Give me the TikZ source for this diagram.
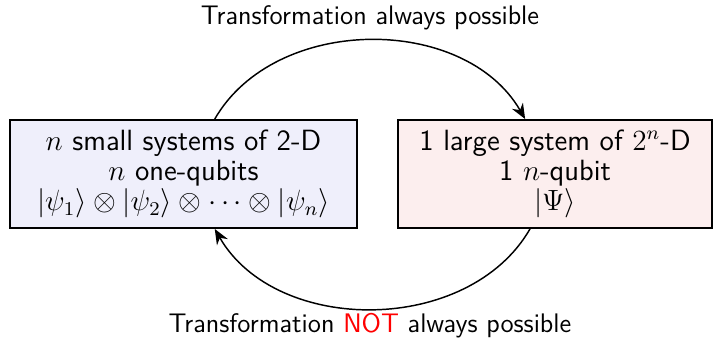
\documentclass[tikz,border=0pt]{standalone}
\usepackage{amsmath,amssymb}
\usepackage{tikz}
\usetikzlibrary{arrows.meta,positioning}
\definecolor{smallsys}{RGB}{239,239,251}
\definecolor{largesys}{RGB}{252,238,238}

\begin{document}
\begin{tikzpicture}[
  x=0.0144cm, y=-0.0144cm,
  sysbox/.style={draw, thick, minimum height=1.555cm, align=center,
                 font=\sffamily\fontsize{12}{12.3}\selectfont, inner sep=2pt},
  trans/.style={-{Stealth[length=2.2mm,width=1.8mm]}, semithick},
  lbl/.style={font=\sffamily\fontsize{11}{13}\selectfont},
]
\useasboundingbox (0,0) rectangle (722,340);
% Systems
\node[sysbox, fill=smallsys, minimum width=5.0cm] (small) at (183.5,174)
  {$n$ small systems of 2-D\\ $n$ one-qubits\\
   $|\psi_1\rangle\otimes|\psi_2\rangle\otimes\cdots\otimes|\psi_n\rangle$};
\node[sysbox, fill=largesys, minimum width=4.52cm] (large) at (555,174)
  {1 large system of $2^n$-D\\ 1 $n$-qubit\\ $|\Psi\rangle$};

% Transformations
\draw[trans] ([xshift=0.45cm]small.north) to[out=60, in=120]
  ([xshift=-0.43cm]large.north);
\draw[trans] ([xshift=-0.36cm]large.south) to[out=-120, in=-60]
  ([xshift=0.45cm]small.south);

% Labels
\node[lbl] (always) at (370,18) {Transformation always possible};
\node[lbl] (never) at (370,326) {Transformation \textcolor{red}{NOT} always possible};
\end{tikzpicture}
\end{document}
